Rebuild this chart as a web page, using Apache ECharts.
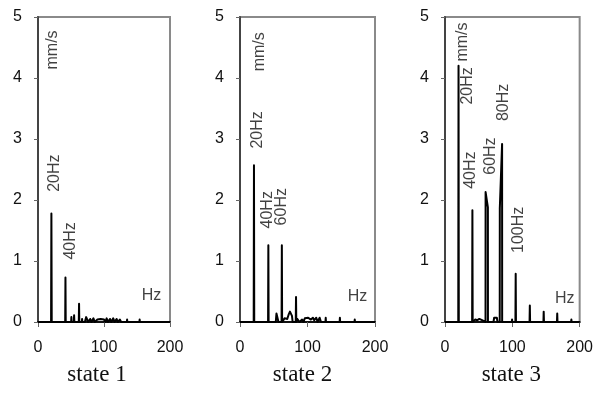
<!DOCTYPE html>
<html>
<head>
<meta charset="utf-8">
<script src="https://cdn.jsdelivr.net/npm/echarts@6.0.0/dist/echarts.min.js"></script>
<style>
	html, body { margin: 0; padding: 0; background: #fff; }
	#chart { width: 596px; height: 394px; }
</style>
</head>
<body>
<div id="chart"></div>
<script>
// panel titles and axis ticks
const stateNames = ['state 1', 'state 2', 'state 3'];
const xMax = 200;
const yMax = 5;

// spectrum traces, frequency (Hz) / amplitude (mm/s)
const state1Freq = [0, 19.8, 20.3, 20.8, 37.6, 38, 38.4, 41.2, 41.6, 42, 50.2, 50.6, 51, 54.3, 54.7, 55.1, 61.8, 62.2, 62.6, 66.4, 66.8, 67.2, 71, 73, 75, 76, 79, 81, 84, 86, 90, 92, 95, 97, 100, 102, 104, 106, 109, 111, 114, 116, 119, 121, 124, 126, 134.6, 135, 135.4, 153.6, 154, 154.4, 200];
const state1Amp = [0, 0, 1.78, 0, 0, 0.03, 0, 0, 0.73, 0, 0, 0.08, 0, 0, 0.11, 0, 0, 0.30, 0, 0, 0.05, 0, 0, 0.08, 0.07, 0, 0.05, 0, 0.06, 0, 0.04, 0.03, 0.05, 0.03, 0.04, 0, 0.06, 0, 0.05, 0, 0.06, 0, 0.05, 0, 0.04, 0, 0, 0.04, 0, 0, 0.04, 0, 0];

const state2Freq = [0, 20.3, 20.7, 21.1, 41.6, 42, 42.4, 53, 54, 56, 57, 61.6, 62, 62.4, 65, 66, 68, 70, 72, 74, 76, 77, 78, 82.6, 83, 83.4, 85, 88, 92, 94, 96, 98, 101, 103, 105, 108, 110, 113, 115, 118, 120, 126.6, 127, 127.4, 137.6, 138, 138.4, 147.6, 148, 148.4, 169.6, 170, 170.4, 200];
const state2Amp = [0, 0, 2.57, 0, 0, 1.26, 0, 0, 0.14, 0.17, 0, 0, 1.26, 0, 0, 0.06, 0.08, 0.05, 0.12, 0.17, 0.20, 0.10, 0, 0, 0.41, 0, 0.05, 0, 0.04, 0, 0.06, 0.03, 0.07, 0.09, 0.04, 0.07, 0.03, 0.07, 0, 0.07, 0, 0, 0.07, 0, 0, 0.03, 0, 0, 0.07, 0, 0, 0.04, 0, 0];

const state3Freq = [0, 19.7, 20.1, 20.5, 40.3, 40.7, 41.1, 45, 48, 51, 53, 55, 57, 60.2, 60.3, 63.7, 63.8, 72, 73, 77, 78, 81.3, 81.4, 84.8, 84.9, 99.2, 99.6, 100, 104.6, 105, 105.4, 125.6, 126, 126.4, 146.2, 146.6, 147, 166.3, 166.7, 167.1, 187.3, 187.7, 188.1, 200];
const state3Amp = [0, 0, 4.20, 0, 0, 1.83, 0, 0.04, 0.03, 0.05, 0.07, 0.03, 0, 0, 2.13, 1.88, 0, 0, 0.07, 0.07, 0, 0, 1.86, 2.92, 0, 0, 0.04, 0, 0, 0.79, 0, 0, 0.27, 0, 0, 0.17, 0, 0, 0.14, 0, 0, 0.04, 0, 0];

// text notes placed in data coordinates (Hz, mm/s)
const state1Notes = [
	{text: 'mm/s', f: 22.7, a: 4.46, rot: 90},
	{text: '20Hz', f: 24.7, a: 2.44, rot: 90},
	{text: '40Hz', f: 50, a: 1.33, rot: 90},
	{text: 'Hz', f: 172, a: 0.43, rot: 0}
];
const state2Notes = [
	{text: 'mm/s', f: 29.6, a: 4.43, rot: 90},
	{text: '20Hz', f: 25.7, a: 3.15, rot: 90},
	{text: '40Hz', f: 41.5, a: 1.84, rot: 90},
	{text: '60Hz', f: 62, a: 1.89, rot: 90},
	{text: 'Hz', f: 174, a: 0.41, rot: 0}
];
const state3Notes = [
	{text: 'mm/s', f: 26.5, a: 4.59, rot: 90},
	{text: '20Hz', f: 33.8, a: 3.87, rot: 90},
	{text: '80Hz', f: 86.8, a: 3.6, rot: 90},
	{text: '40Hz', f: 38, a: 2.49, rot: 90},
	{text: '60Hz', f: 67.6, a: 2.72, rot: 90},
	{text: '100Hz', f: 109, a: 1.51, rot: 90},
	{text: 'Hz', f: 178, a: 0.38, rot: 0}
];

const traces = [
	{freq: state1Freq, amp: state1Amp, notes: state1Notes},
	{freq: state2Freq, amp: state2Amp, notes: state2Notes},
	{freq: state3Freq, amp: state3Amp, notes: state3Notes}
];

const panels = [
	{left: 38, width: 132, nameShift: 14},
	{left: 240, width: 135, nameShift: 10},
	{left: 445, width: 136, nameShift: 2}
];

const sans = '"Liberation Sans", Arial, sans-serif';

const chart = echarts.init(document.getElementById('chart'));

const grid = panels.map(p => ({
	left: p.left,
	width: p.width,
	top: 17,
	height: 305,
	show: true,
	borderColor: '#8a8a8a',
	borderWidth: 2,
	backgroundColor: 'transparent'
}));

const xAxis = panels.map((p, i) => ({
	gridIndex: i,
	type: 'value',
	min: 0,
	max: xMax,
	interval: 100,
	name: stateNames[i],
	nameLocation: 'middle',
	nameGap: 41,
	nameTextStyle: {
		fontFamily: '"Liberation Serif", "Times New Roman", serif',
		fontSize: 23,
		color: '#111',
		padding: [0, p.nameShift, 0, 0]
	},
	splitLine: {show: false},
	axisLine: {onZero: false, lineStyle: {color: '#111', width: 2}},
	axisTick: {length: 5, lineStyle: {color: '#666', width: 1}},
	axisLabel: {margin: 18, fontSize: 16, fontFamily: sans, color: '#111'}
}));

const yAxis = panels.map((p, i) => ({
	gridIndex: i,
	type: 'value',
	min: 0,
	max: yMax,
	interval: 1,
	splitLine: {show: false},
	axisLine: {show: true, lineStyle: {color: '#444', width: 2}},
	axisTick: {show: true, length: 4, lineStyle: {color: '#666', width: 1}},
	axisLabel: {margin: 16, fontSize: 16, fontFamily: sans, color: '#111'}
}));

const series = [];
traces.forEach((t, i) => {
	series.push({
		type: 'line',
		xAxisIndex: i,
		yAxisIndex: i,
		data: t.freq.map((f, k) => [f, t.amp[k]]),
		symbol: 'none',
		silent: true,
		z: 5,
		lineStyle: {color: '#000', width: 2, join: 'round'}
	});
	series.push({
		type: 'scatter',
		xAxisIndex: i,
		yAxisIndex: i,
		symbolSize: 0,
		silent: true,
		z: 6,
		data: t.notes.map(n => ({
			value: [n.f, n.a],
			label: {
				show: true,
				position: 'inside',
				rotate: n.rot,
				formatter: n.text,
				fontSize: 16,
				fontFamily: sans,
				color: '#111'
			}
		}))
	});
});

chart.setOption({
	animation: false,
	grid: grid,
	xAxis: xAxis,
	yAxis: yAxis,
	series: series
});
</script>
</body>
</html>
